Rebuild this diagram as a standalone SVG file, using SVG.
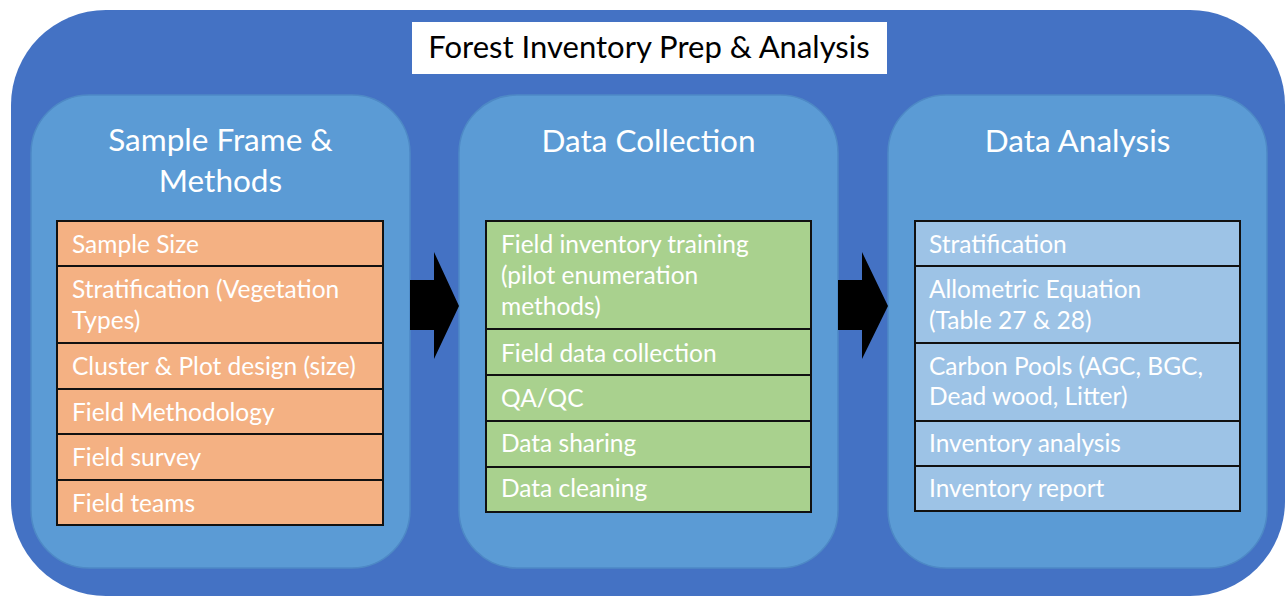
<svg xmlns="http://www.w3.org/2000/svg" width="1286" height="598" viewBox="0 0 1286 598">
<style>
.outer{fill:#4472C4;}
.panel{fill:#5B9BD5;stroke:#4E89C6;stroke-width:1.5;}
.hdr{font-family:Lato,"Open Sans","Liberation Sans",sans-serif;font-size:31.5px;fill:#FFFFFF;text-anchor:middle;}
.title{font-family:Lato,"Open Sans","Liberation Sans",sans-serif;font-size:31px;fill:#000000;text-anchor:middle;}
.item{font-family:Lato,"Open Sans","Liberation Sans",sans-serif;font-size:24.5px;fill:#FFFFFF;}
.cell{stroke:#111111;stroke-width:2;}
.or{fill:#F4B183;}
.gr{fill:#A9D18E;}
.bl{fill:#9DC3E6;}
.arrow{fill:#000000;}
</style>
<g id="frame">
<rect class="outer" x="11" y="10" width="1274" height="586" rx="95" ry="95"/>
</g>
<g id="title">
<rect x="412" y="22" width="475" height="52" fill="#FFFFFF"/>
<text class="title" x="649" y="58">Forest Inventory Prep &amp; Analysis</text>
</g>
<g id="panel-sample-frame">
<rect class="panel" x="31" y="95" width="379" height="473" rx="58" ry="58"/>
<text class="hdr" x="220.5" y="151">Sample Frame &amp;</text>
<text class="hdr" x="220.5" y="192">Methods</text>
<rect class="cell or" x="57" y="221" width="326" height="45"/>
<rect class="cell or" x="57" y="266" width="326" height="77"/>
<rect class="cell or" x="57" y="343" width="326" height="46"/>
<rect class="cell or" x="57" y="389" width="326" height="45"/>
<rect class="cell or" x="57" y="434" width="326" height="46"/>
<rect class="cell or" x="57" y="480" width="326" height="45"/>
<text class="item" x="72" y="253">Sample Size</text>
<text class="item" x="72" y="298">Stratification (Vegetation</text>
<text class="item" x="72" y="329">Types)</text>
<text class="item" x="72" y="375">Cluster &amp; Plot design (size)</text>
<text class="item" x="72" y="421">Field Methodology</text>
<text class="item" x="72" y="466">Field survey</text>
<text class="item" x="72" y="512">Field teams</text>
</g>
<g id="panel-data-collection">
<rect class="panel" x="459" y="95" width="379" height="473" rx="58" ry="58"/>
<text class="hdr" x="648.5" y="152">Data Collection</text>
<rect class="cell gr" x="486" y="221" width="325" height="108"/>
<rect class="cell gr" x="486" y="329" width="325" height="46"/>
<rect class="cell gr" x="486" y="375" width="325" height="46"/>
<rect class="cell gr" x="486" y="421" width="325" height="46"/>
<rect class="cell gr" x="486" y="467" width="325" height="45"/>
<text class="item" x="501" y="253">Field inventory training</text>
<text class="item" x="501" y="284">(pilot enumeration</text>
<text class="item" x="501" y="315">methods)</text>
<text class="item" x="501" y="362">Field data collection</text>
<text class="item" x="501" y="407">QA/QC</text>
<text class="item" x="501" y="452">Data sharing</text>
<text class="item" x="501" y="497">Data cleaning</text>
</g>
<g id="panel-data-analysis">
<rect class="panel" x="888" y="95" width="379" height="473" rx="58" ry="58"/>
<text class="hdr" x="1077.5" y="152">Data Analysis</text>
<rect class="cell bl" x="915" y="221" width="325" height="45"/>
<rect class="cell bl" x="915" y="266" width="325" height="77"/>
<rect class="cell bl" x="915" y="343" width="325" height="78"/>
<rect class="cell bl" x="915" y="421" width="325" height="45"/>
<rect class="cell bl" x="915" y="466" width="325" height="45"/>
<text class="item" x="929" y="253">Stratification</text>
<text class="item" x="929" y="298">Allometric Equation</text>
<text class="item" x="929" y="329">(Table 27 &amp; 28)</text>
<text class="item" x="929" y="375">Carbon Pools (AGC, BGC,</text>
<text class="item" x="929" y="405">Dead wood, Litter)</text>
<text class="item" x="929" y="452">Inventory analysis</text>
<text class="item" x="929" y="497">Inventory report</text>
</g>
<g id="connectors">
<polygon class="arrow" points="410,280 434,280 434,252 459,306 434,359 434,330 410,330"/>
<polygon class="arrow" points="838,280 862,280 862,252 888,306 862,359 862,330 838,330"/>
</g>
</svg>
